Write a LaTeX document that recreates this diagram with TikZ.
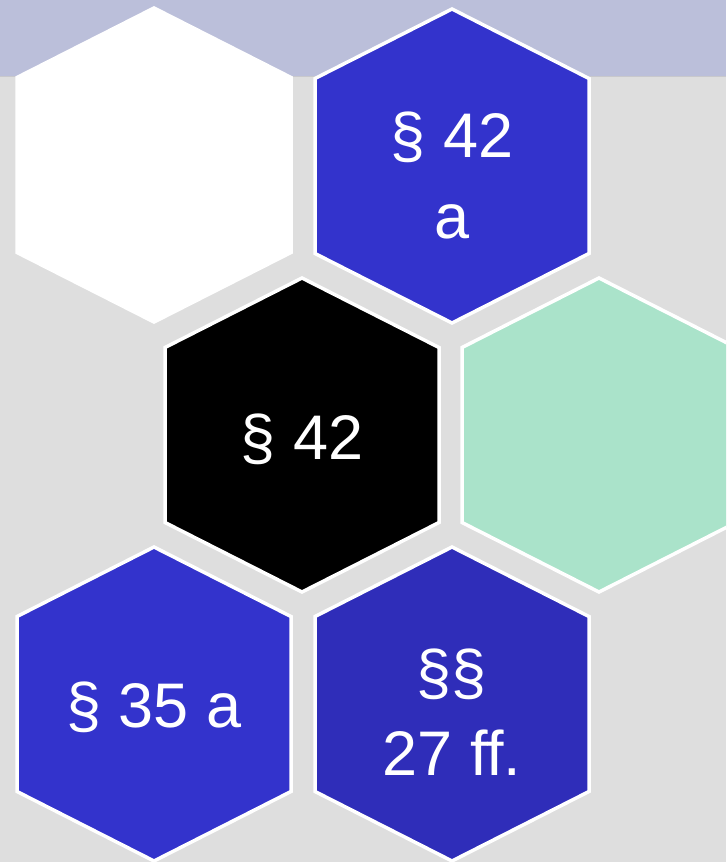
\documentclass[tikz,border=0pt]{standalone}
\usepackage{fontspec}
\setmainfont{Liberation Sans}
\definecolor{bandc}{HTML}{BBBFDA}
\definecolor{bgc}{HTML}{DEDEDE}
\definecolor{linec}{HTML}{C8C8CC}
\definecolor{bluec}{HTML}{3333CC}
\definecolor{dbluec}{HTML}{2F2DB9}
\definecolor{greenc}{HTML}{AAE3CA}
\begin{document}
\begin{tikzpicture}[x=1pt,y=-1pt,
  hexa/.pic={\path[pic actions] (0,-157) -- (137,-87.5) -- (137,87.5) -- (0,157) -- (-137,87.5) -- (-137,-87.5) -- cycle;},
  hexstyle/.style={draw=white,line width=3.5pt,line join=miter},
  lbl/.style={text=white,font=\fontsize{63}{81}\selectfont,inner sep=0pt,align=center}]
\useasboundingbox (0,0) rectangle (726,862);
\clip (0,0) rectangle (726,862);
\fill[bgc] (0,0) rectangle (726,862);
\fill[bandc] (0,0) rectangle (726,76);
\draw[linec,line width=1pt] (0,76.5) -- (726,76.5);
\pic[hexstyle,fill=white] at (154,165) {hexa};
\pic[hexstyle,fill=bluec] at (452,166) {hexa};
\pic[hexstyle,fill=black] at (302,435) {hexa};
\pic[hexstyle,fill=greenc] at (599,435) {hexa};
\pic[hexstyle,fill=bluec] at (154,704) {hexa};
\pic[hexstyle,fill=dbluec] at (452,704) {hexa};
\node[lbl] (t42a) at (452,175) {§ 42\\a};
\node[lbl,anchor=base] (t42) at (302,459) {§ 42};
\node[lbl,anchor=base] (t35a) at (154,727) {§ 35 a};
\node[lbl] (t27) at (452,712) {§§\\27 ff.};
\end{tikzpicture}
\end{document}
